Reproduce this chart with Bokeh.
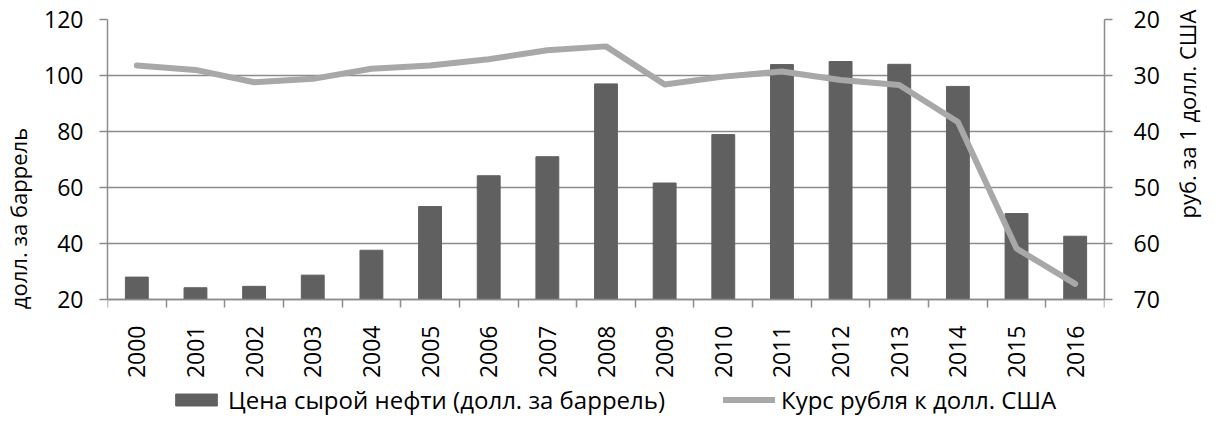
import math
from bokeh.plotting import figure
from bokeh.models import (Range1d, LinearAxis, FixedTicker, Legend, LegendItem, Grid)
from bokeh.embed import file_html
from bokeh.resources import INLINE

years = ["2000", "2001", "2002", "2003", "2004", "2005", "2006", "2007", "2008",
         "2009", "2010", "2011", "2012", "2013", "2014", "2015", "2016"]
oil_price = [28.0, 24.2, 24.7, 28.7, 37.6, 53.2, 64.2, 71.0, 97.0, 61.6, 78.9,
             103.9, 105.0, 104.0, 96.1, 50.7, 42.6]
rub_rate = [28.2, 29.0, 31.2, 30.6, 28.8, 28.2, 27.1, 25.5, 24.8, 31.6, 30.2,
            29.3, 30.8, 31.7, 38.3, 60.9, 67.2]

oil_label = "Цена сырой нефти (долл. за баррель)"
rub_label = "Курс рубля к долл. США"
left_title = "долл. за баррель"
right_title = "руб. за 1 долл. США"
left_ticks = [20, 40, 60, 80, 100, 120]
right_ticks = [20, 30, 40, 50, 60, 70]

FONT = "Open Sans"
GRID = "#8c8c8c"
BAR = "#606060"
LINE = "#a8a8a8"
FS = "23px"

xs = list(range(len(years)))

# the frame runs down to the bottom of the canvas so that the x labels and the
# legend sit inside it; the value axes are bounded to their own spans
oil_lo, oil_hi = left_ticks[0], left_ticks[-1]
rub_lo, rub_hi = right_ticks[0], right_ticks[-1]
plot_h, frame_h = 280, 398
extra = (frame_h - plot_h) / plot_h

p = figure(frame_width=997, frame_height=frame_h, output_backend="svg",
           toolbar_location=None,
           x_range=Range1d(-0.5, len(years) - 0.5),
           y_range=Range1d(oil_lo - extra * (oil_hi - oil_lo), oil_hi),
           min_border_left=101, min_border_right=108, min_border_top=19,
           min_border_bottom=0, x_axis_type=None, y_axis_type=None)
p.outline_line_color = None
p.extra_y_ranges = {"rub": Range1d(rub_hi + extra * (rub_hi - rub_lo), rub_lo)}

bars = p.vbar(x=xs, top=oil_price, bottom=oil_lo, width=0.39, fill_color=BAR,
              line_color=BAR)
line = p.line(x=xs, y=rub_rate, y_range_name="rub", line_color=LINE,
              line_width=6, line_cap="round", line_join="round")

# x axis, drawn at the bottom of the value area
xax = LinearAxis(ticker=FixedTicker(ticks=xs, minor_ticks=[i - 0.5 for i in range(len(years) + 1)]),
                 fixed_location=oil_lo)
xax.major_label_overrides = {i: y for i, y in zip(xs, years)}
xax.major_label_orientation = math.pi / 2
xax.major_tick_out = 0
xax.major_tick_in = 0
xax.minor_tick_out = 8
xax.minor_tick_in = 0
xax.minor_tick_line_color = GRID
xax.minor_tick_line_width = 1.5
xax.axis_line_color = GRID
xax.axis_line_width = 1.5
xax.major_label_standoff = 18
xax.major_label_text_font = FONT
xax.major_label_text_font_size = FS
xax.major_label_text_color = "black"
p.add_layout(xax, "below")

lax = LinearAxis(ticker=FixedTicker(ticks=left_ticks), axis_label=left_title,
                 bounds=(oil_lo, oil_hi))
rax = LinearAxis(ticker=FixedTicker(ticks=right_ticks), y_range_name="rub",
                 axis_label=right_title, bounds=(rub_lo, rub_hi))
for ax in (lax, rax):
    ax.axis_line_color = GRID
    ax.axis_line_width = 1.5
    ax.major_tick_line_color = GRID
    ax.major_tick_line_width = 1.5
    ax.major_tick_out = 8
    ax.major_tick_in = 0
    ax.minor_tick_line_color = None
    ax.major_label_standoff = 16
    ax.major_label_text_font = FONT
    ax.major_label_text_font_size = FS
    ax.major_label_text_color = "black"
    ax.axis_label_text_font = FONT
    ax.axis_label_text_font_size = "22px"
    ax.axis_label_text_font_style = "normal"
    ax.axis_label_text_color = "black"
    ax.axis_label_standoff = 8
rax.major_label_standoff = 21
rax.axis_label_standoff = 24
rax.axis_label_orientation = math.pi / 2
p.add_layout(lax, "left")
p.add_layout(rax, "right")

p.add_layout(Grid(dimension=1, ticker=lax.ticker, grid_line_color=GRID,
                  grid_line_width=1.5))

legend = Legend(items=[LegendItem(label=oil_label, renderers=[bars]),
                       LegendItem(label=rub_label, renderers=[line])],
                orientation="horizontal", location=(63, 1),
                border_line_color=None, background_fill_alpha=0,
                padding=0, margin=0, spacing=58, glyph_width=52,
                glyph_height=15, label_standoff=6, label_height=15,
                label_text_font=FONT, label_text_font_size="24px",
                label_text_color="black")
p.add_layout(legend, "center")

open("out.html", "w").write(file_html(p, INLINE))
